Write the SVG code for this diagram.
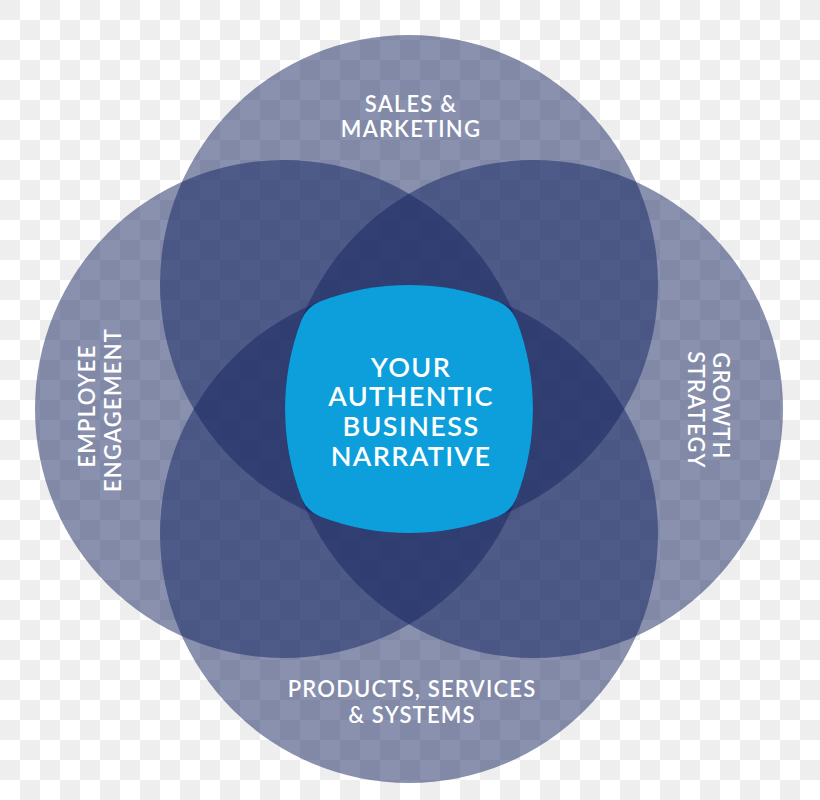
<svg xmlns="http://www.w3.org/2000/svg" width="820" height="800" viewBox="0 0 820 800">
  <defs>
    <pattern id="checker" x="0" y="0" width="40" height="40" patternUnits="userSpaceOnUse">
      <rect width="40" height="40" fill="#ffffff"/>
      <rect x="0" y="0" width="20" height="20" fill="#eeeeee"/>
      <rect x="20" y="20" width="20" height="20" fill="#eeeeee"/>
    </pattern>
  </defs>
  <style>
    .circ { fill: #132360; fill-opacity: 0.5; }
    .lbl { font-family: "Lato", "Open Sans", "Liberation Sans", sans-serif; font-weight: 600; fill: #ffffff; text-anchor: middle; }
    .side { font-size: 22px; letter-spacing: 1.2px; }
    .core { font-size: 27px; letter-spacing: 1.4px; }
  </style>
  <rect width="820" height="800" fill="url(#checker)"/>

  <g id="sales-marketing">
    <circle class="circ" cx="409" cy="284" r="249"/>
    <text class="lbl side" x="411" y="112">SALES &amp;</text>
    <text class="lbl side" x="411" y="137">MARKETING</text>
  </g>
  <g id="products-services-systems">
    <circle class="circ" cx="409" cy="534" r="249"/>
    <text class="lbl side" x="412" y="697">PRODUCTS, SERVICES</text>
    <text class="lbl side" x="412" y="723">&amp; SYSTEMS</text>
  </g>
  <g id="employee-engagement">
    <circle class="circ" cx="284" cy="409" r="249"/>
    <text class="lbl side" transform="translate(95,406) rotate(-90)">EMPLOYEE</text>
    <text class="lbl side" transform="translate(121,410) rotate(-90)">ENGAGEMENT</text>
  </g>
  <g id="growth-strategy">
    <circle class="circ" cx="534" cy="409" r="249"/>
    <text class="lbl side" transform="translate(713,406) rotate(90)">GROWTH</text>
    <text class="lbl side" transform="translate(688,410) rotate(90)">STRATEGY</text>
  </g>

  <g id="connectors"></g>

  <g id="authentic-business-narrative">
    <path fill="#0c9fdb" d="M320,301.5 A249,249 0 0 1 498,301.5 Q511,307 516.5,320 A249,249 0 0 1 516.5,498 Q511,511 498,516.5 A249,249 0 0 1 320,516.5 Q307,511 301.5,498 A249,249 0 0 1 301.5,320 Q307,307 320,301.5 Z"/>
    <text class="lbl core" x="411" y="377">YOUR</text>
    <text class="lbl core" x="411" y="406">AUTHENTIC</text>
    <text class="lbl core" x="411" y="436">BUSINESS</text>
    <text class="lbl core" x="411" y="466">NARRATIVE</text>
  </g>
</svg>
